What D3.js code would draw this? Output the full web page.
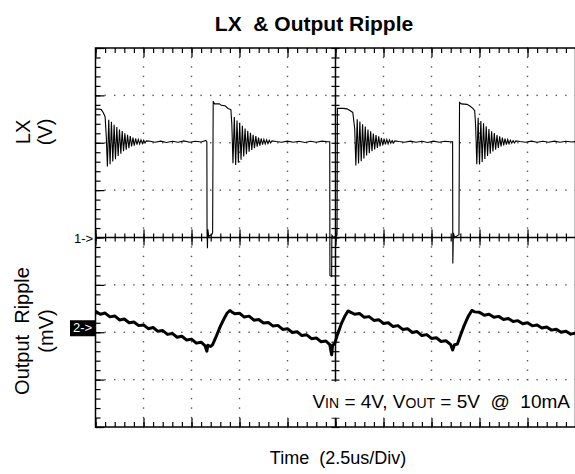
<!DOCTYPE html>
<html>
<head>
<meta charset="utf-8">
<script src="https://cdn.jsdelivr.net/npm/d3@7/dist/d3.min.js"></script>
<style>
  body { margin: 0; background: #fff; }
  svg { display: block; font-family: Arial, "Liberation Sans", sans-serif; }
  svg text { white-space: pre; }
</style>
</head>
<body>
<div id="chart"></div>
<script>
// time base: 2.5 us/div, 10 divisions
const timeSpan = [0, 25];
const lxVoltsPerDiv = 2, lxRefDiv = 0;          // channel 1 (1->)
const rippleMvPerDiv = 20, rippleRefDiv = -2;   // channel 2 (2->)

// LX node, [us, V] (switching edges and flat parts)
const lxTrace = [
  [0, 5.42], [0.2, 5.42], [0.3, 5.4], [0.4, 5.28], [0.5, 5.1], [0.56, 4.3],
  [2.85, 4.06], [3.1, 4.02], [3.4, 4.07], [3.7, 4.01], [4.0, 4.06], [4.3, 4.02], [4.6, 4.08],
  [4.9, 4.02], [5.2, 4.06], [5.5, 4.03], [5.75, 4.1],
  [5.8, 4.04], [5.81, 0.2], [5.83, -0.45], [5.85, 0.35], [5.9, 0.05], [6.05, 0.12], [6.1, 0.2],
  [6.13, 5.75], [6.2, 5.64], [6.45, 5.64], [6.55, 5.58], [6.75, 5.56], [6.9, 5.45], [7.05, 5.4], [7.1, 4.8],
  [9.4, 4.05], [9.7, 4.02], [10.0, 4.07], [10.3, 4.02], [10.6, 4.06], [10.9, 4.01], [11.2, 4.06],
  [11.5, 4.02], [11.8, 4.07], [12.1, 4.04],
  [12.2, 4.04], [12.21, -1.6], [12.3, -1.65], [12.31, 0.1], [12.4, 0.0], [12.5, 0.05], [12.58, 0.1],
  [12.6, 5.45], [12.9, 5.45], [13.1, 5.43], [13.25, 5.36], [13.4, 5.28], [13.5, 4.6],
  [15.8, 4.05], [16.1, 4.02], [16.4, 4.07], [16.7, 4.02], [17.0, 4.06], [17.3, 4.01], [17.6, 4.07],
  [17.9, 4.02], [18.2, 4.06], [18.5, 4.04],
  [18.6, 4.04], [18.61, -1.1], [18.64, 0.2], [18.7, 0.0], [18.85, 0.08], [18.93, 0.12],
  [18.96, 5.7], [19.05, 5.64], [19.35, 5.62], [19.5, 5.55], [19.65, 5.45], [19.75, 5.35], [19.8, 4.7],
  [22.1, 4.05], [22.4, 4.02], [22.7, 4.07], [23.0, 4.02], [23.3, 4.06], [23.6, 4.02], [23.9, 4.07],
  [24.2, 4.02], [24.5, 4.06], [24.8, 4.03], [25, 4.05]
];

// ringing after each high pulse: start (us), level (V), peak deviations (V)
const ringStart = [0.62, 7.16, 13.56, 19.86];
const ringLevel = 4.04;
const ringHalfPeriod = 0.07;
const ringPeaks1 = [-1.04, 0.93, -0.95, 0.85, -0.83, 0.72, -0.74, 0.62, -0.6, 0.52, -0.5, 0.45, -0.4, 0.36, -0.33,
  0.3, -0.27, 0.24, -0.2, 0.18, -0.16, 0.14, -0.12, 0.1, -0.09, 0.08, -0.07, 0.06, -0.05, 0.04];
const ringPeaks2 = [-0.9, 1.05, -0.98, 0.9, -0.88, 0.8, -0.76, 0.68, -0.62, 0.56, -0.52, 0.46, -0.42, 0.38, -0.34,
  0.3, -0.27, 0.24, -0.21, 0.18, -0.16, 0.14, -0.12, 0.1, -0.09, 0.08, -0.07, 0.06, -0.05, 0.04];
const ringPeaks3 = [-1.0, 0.95, -0.92, 0.86, -0.82, 0.74, -0.7, 0.64, -0.58, 0.52, -0.48, 0.44, -0.4, 0.35, -0.32,
  0.28, -0.26, 0.23, -0.2, 0.17, -0.15, 0.13, -0.11, 0.1, -0.09, 0.08, -0.06, 0.05, -0.05, 0.04];
const ringPeaks4 = [-0.95, 1.02, -0.96, 0.88, -0.85, 0.78, -0.72, 0.66, -0.6, 0.54, -0.5, 0.44, -0.41, 0.37, -0.33,
  0.29, -0.26, 0.23, -0.2, 0.18, -0.15, 0.13, -0.12, 0.1, -0.08, 0.07, -0.06, 0.05, -0.05, 0.04];

// output ripple, [us, mV]
const rippleTrace = [
  [0, 8.9], [0.25, 7.6], [0.5, 8.1], [0.75, 6.5], [1.0, 6.9], [1.25, 5.2], [1.5, 5.6], [1.75, 4.0],
  [2.0, 4.3], [2.25, 2.8], [2.5, 3.1], [2.75, 1.5], [3.0, 2.0], [3.25, 0.4], [3.5, 0.7], [3.75, -0.9],
  [4.0, -0.5], [4.25, -2.1], [4.5, -1.7], [4.75, -3.3], [5.0, -2.9], [5.25, -4.6], [5.5, -4.2], [5.7, -5.6],
  [5.8, -8.0], [5.85, -5.5], [6.0, -6.0], [6.1, -5.2],
  [6.3, -1.5], [6.5, 2.5], [6.7, 5.8], [6.85, 8.0], [7.0, 9.2], [7.1, 8.6],
  [7.25, 7.8], [7.5, 8.0], [7.75, 6.4], [8.0, 6.8], [8.25, 5.1], [8.5, 5.4], [8.75, 3.9], [9.0, 4.1],
  [9.25, 2.6], [9.5, 2.9], [9.75, 1.2], [10.0, 1.5], [10.25, -0.1], [10.5, 0.2], [10.75, -1.4], [11.0, -1.1],
  [11.25, -2.7], [11.5, -2.4], [11.75, -4.0], [12.0, -3.7], [12.2, -5.2], [12.3, -9.5], [12.35, -5.3], [12.45, -5.0],
  [12.6, -1.0], [12.8, 3.5], [13.0, 7.0], [13.15, 9.0], [13.3, 8.4],
  [13.5, 7.6], [13.75, 7.9], [14.0, 6.3], [14.25, 6.6], [14.5, 5.0], [14.75, 5.3], [15.0, 3.7], [15.25, 4.0],
  [15.5, 2.4], [15.75, 2.8], [16.0, 1.2], [16.25, 1.5], [16.5, -0.1], [16.75, 0.3], [17.0, -1.4], [17.25, -1.0],
  [17.5, -2.6], [17.75, -2.3], [18.0, -3.9], [18.25, -3.6], [18.5, -5.2], [18.6, -7.5], [18.7, -5.3], [18.85, -5.0],
  [19.0, -1.5], [19.2, 2.8], [19.4, 6.5], [19.6, 9.2], [19.75, 8.6],
  [20.0, 8.4], [20.25, 7.2], [20.5, 7.6], [20.75, 6.3], [21.0, 6.7], [21.25, 5.4], [21.5, 5.8], [21.75, 4.5],
  [22.0, 4.9], [22.25, 3.6], [22.5, 4.0], [22.75, 2.7], [23.0, 3.1], [23.25, 1.8], [23.5, 2.2], [23.75, 0.9],
  [24.0, 1.3], [24.25, 0.0], [24.5, 0.4], [24.75, -0.8], [25.0, -0.4]
];

const title = "LX  & Output Ripple";
const xLabel = "Time  (2.5us/Div)";

const width = 575, height = 474;
const plot = {left: 95.5, right: 575.5, top: 48, bottom: 427};

const svg = d3.select('#chart')
  .append('svg')
    .attr('width', width)
    .attr('height', height);

const x = d3.scaleLinear().domain(timeSpan).range([plot.left, plot.right]);
const y = d3.scaleLinear().domain([-4, 4]).range([plot.bottom, plot.top]);
const yLX = v => y(v / lxVoltsPerDiv + lxRefDiv);
const yRip = mv => y(mv / rippleMvPerDiv + rippleRefDiv);

const xMajor = d3.range(0, 25.01, 2.5);
const xMinor = d3.range(0, 25.01, 0.5);
const yMajor = d3.range(-4, 4.01, 1);
const yMinor = d3.range(-4, 4.01, 0.2);

// dotted graticule
const grid = svg.append('g').attr('fill', '#555');
xMajor.filter(t => t > 0 && t < 25 && t !== 12.5).forEach(t => {
  grid.selectAll(null).data(yMinor).join('rect')
    .attr('x', x(t) - 0.7).attr('y', d => y(d) - 0.7)
    .attr('width', 1.4).attr('height', 1.4);
});
yMajor.filter(d => d > -4 && d < 4 && d !== 0).forEach(d => {
  grid.selectAll(null).data(xMinor).join('rect')
    .attr('x', t => x(t) - 0.7).attr('y', y(d) - 0.7)
    .attr('width', 1.4).attr('height', 1.4);
});

// border ticks and centre axes
function ticks(g, axis, values, size) {
  g.call(axis.tickValues(values).tickSize(size).tickFormat(''));
  g.select('.domain').remove();
  g.selectAll('line').attr('stroke', '#000').attr('stroke-width', 1.2);
}
const axes = svg.append('g');
ticks(axes.append('g').attr('transform', `translate(0,${plot.top})`), d3.axisBottom(x), xMinor, 5);
ticks(axes.append('g').attr('transform', `translate(0,${plot.top})`), d3.axisBottom(x), xMajor, 9);
ticks(axes.append('g').attr('transform', `translate(0,${plot.bottom})`), d3.axisTop(x), xMinor, 5);
ticks(axes.append('g').attr('transform', `translate(0,${plot.bottom})`), d3.axisTop(x), xMajor, 9);
ticks(axes.append('g').attr('transform', `translate(${plot.left},0)`), d3.axisRight(y), yMinor, 5);
ticks(axes.append('g').attr('transform', `translate(${plot.left},0)`), d3.axisRight(y), yMajor, 9);
ticks(axes.append('g').attr('transform', `translate(0,${y(0)})`), d3.axisBottom(x), xMinor, 4);
ticks(axes.append('g').attr('transform', `translate(0,${y(0)})`), d3.axisTop(x), xMinor, 4);
ticks(axes.append('g').attr('transform', `translate(0,${y(0)})`), d3.axisBottom(x), xMajor, 8);
ticks(axes.append('g').attr('transform', `translate(0,${y(0)})`), d3.axisTop(x), xMajor, 8);
ticks(axes.append('g').attr('transform', `translate(${x(12.5)},0)`), d3.axisRight(y), yMinor, 4);
ticks(axes.append('g').attr('transform', `translate(${x(12.5)},0)`), d3.axisLeft(y), yMinor, 4);

axes.append('line')
  .attr('x1', plot.left).attr('x2', plot.right).attr('y1', y(0)).attr('y2', y(0))
  .attr('stroke', '#000').attr('stroke-width', 1.5);
axes.append('line')
  .attr('x1', x(12.5)).attr('x2', x(12.5)).attr('y1', plot.top).attr('y2', plot.bottom)
  .attr('stroke', '#000').attr('stroke-width', 1.5);

// LX trace = edges + ringing bursts
const ringPeaks = [ringPeaks1, ringPeaks2, ringPeaks3, ringPeaks4];
const lxPoints = lxTrace.concat(
  ...ringPeaks.map((peaks, b) => peaks.map((p, i) => [ringStart[b] + i * ringHalfPeriod, ringLevel + p]))
).sort((a, b) => a[0] - b[0]);

svg.append('path')
  .datum(lxPoints)
  .attr('fill', 'none')
  .attr('stroke', '#000')
  .attr('stroke-width', 1.1)
  .attr('d', d3.line().x(d => x(d[0])).y(d => yLX(d[1])));

svg.append('path')
  .datum(rippleTrace)
  .attr('fill', 'none')
  .attr('stroke', '#000')
  .attr('stroke-width', 3)
  .attr('stroke-linejoin', 'round')
  .attr('d', d3.line().x(d => x(d[0])).y(d => yRip(d[1])));

// test condition note, on a blank patch of the graticule
svg.append('rect')
  .attr('x', x(8.4)).attr('y', y(-3) + 2)
  .attr('width', plot.right - x(8.4)).attr('height', 36)
  .attr('fill', '#fff');
const note = svg.append('text')
  .attr('x', 570).attr('y', 408)
  .attr('text-anchor', 'end')
  .attr('font-size', 19);
note.append('tspan').text('V');
note.append('tspan').attr('font-size', 14).text('IN');
note.append('tspan').text(' = 4V, V');
note.append('tspan').attr('font-size', 14).text('OUT');
note.append('tspan').text(' = 5V  @  10mA');

svg.append('rect')
  .attr('x', plot.left).attr('y', plot.top)
  .attr('width', plot.right - plot.left).attr('height', plot.bottom - plot.top)
  .attr('fill', 'none').attr('stroke', '#000').attr('stroke-width', 1.5);

// channel markers
svg.append('text')
  .attr('x', 74).attr('y', y(lxRefDiv) + 5)
  .attr('font-size', 13)
  .text('1->');
svg.append('rect')
  .attr('x', 70).attr('y', yRip(0) - 12)
  .attr('width', 25).attr('height', 16)
  .attr('fill', '#000');
svg.append('text')
  .attr('x', 73).attr('y', yRip(0))
  .attr('font-size', 13)
  .attr('fill', '#fff')
  .text('2->');

// titles
svg.append('text')
  .attr('x', 314).attr('y', 31)
  .attr('text-anchor', 'middle')
  .attr('font-size', 21).attr('font-weight', 'bold')
  .text(title);
svg.append('text')
  .attr('x', 338).attr('y', 464)
  .attr('text-anchor', 'middle')
  .attr('font-size', 18)
  .text(xLabel);

const yLabels = [
  {text: 'LX', x: 30, y: 132},
  {text: '(V)', x: 52, y: 132},
  {text: 'Output  Ripple', x: 29, y: 331},
  {text: '(mV)', x: 53, y: 331}
];
svg.selectAll(null).data(yLabels).join('text')
  .attr('transform', d => `translate(${d.x},${d.y}) rotate(-90)`)
  .attr('text-anchor', 'middle')
  .attr('font-size', 20)
  .text(d => d.text);
</script>
</body>
</html>
